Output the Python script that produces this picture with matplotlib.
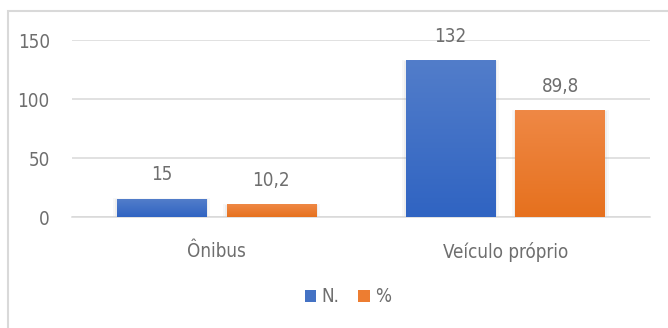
import numpy as np
import matplotlib.pyplot as plt
from matplotlib.colors import LinearSegmentedColormap
from matplotlib.patches import Rectangle

# dados
categorias = ['Ônibus', 'Veículo próprio']
serie_n = [15, 132]
serie_pct = [10.2, 89.8]
rotulos_n = ['15', '132']
rotulos_pct = ['10,2', '89,8']
nomes_series = ['N.', '%']

plt.rcParams['font.family'] = ['DejaVu Sans']
plt.rcParams['font.stretch'] = 'condensed'
cor_texto = '#6e6e6e'
cor_grade = '#d9d9d9'
tam = 13.5

fig = plt.figure(figsize=(6.68, 3.28), dpi=100)
ax = fig.add_axes([0.1078, 0.337, 0.865, 0.541])

x = np.arange(len(categorias))
largura = 0.31
desloc = 0.19

barras_n = ax.bar(x - desloc, serie_n, largura, color='#4472c4', zorder=2)
barras_pct = ax.bar(x + desloc, serie_pct, largura, color='#ed7d31', zorder=2)

# preenchimento em degradê e sombra leve em cada barra
grad_azul = LinearSegmentedColormap.from_list('azul', ['#3064c2', '#527dca'])
grad_laranja = LinearSegmentedColormap.from_list('laranja', ['#e6711e', '#ef8845'])
degrade = np.linspace(0, 1, 100).reshape(-1, 1)
for barras, cmap in ((barras_n, grad_azul), (barras_pct, grad_laranja)):
    for b in barras:
        bx, bw, bh = b.get_x(), b.get_width(), b.get_height()
        for i, a in enumerate((0.05, 0.08)):
            m = 0.012 - i * 0.006
            ax.add_patch(Rectangle((bx - m, 0), bw + 2 * m, bh + 1.2 - i * 0.6,
                                   facecolor='#808080', alpha=a, linewidth=0, zorder=1))
        ax.imshow(degrade, extent=[bx, bx + bw, 0, bh], origin='lower',
                  aspect='auto', cmap=cmap, zorder=3)

# rótulos de valor
for barras, rotulos in ((barras_n, rotulos_n), (barras_pct, rotulos_pct)):
    for b, txt in zip(barras, rotulos):
        ax.annotate(txt, (b.get_x() + b.get_width() / 2, b.get_height()),
                    xytext=(0, 11), textcoords='offset points',
                    ha='center', va='bottom', fontsize=tam, color=cor_texto)

ax.set_xlim(-0.5, 1.5)
ax.set_ylim(0, 150)
ax.set_yticks([0, 50, 100, 150])
ax.set_xticks(x)
ax.set_xticklabels(categorias)
ax.tick_params(axis='both', length=0, labelsize=tam, colors=cor_texto)
ax.tick_params(axis='y', pad=16)
ax.tick_params(axis='x', pad=18)
ax.grid(axis='y', color=cor_grade, linewidth=1.1, zorder=0)
ax.set_axisbelow(True)
for lado in ('top', 'right', 'left'):
    ax.spines[lado].set_visible(False)
ax.spines['bottom'].set_color(cor_grade)
ax.spines['bottom'].set_linewidth(1.1)

fig.legend([barras_n, barras_pct], nomes_series, loc='center',
           bbox_to_anchor=(0.521, 0.095), ncol=2, frameon=False,
           fontsize=tam, labelcolor=cor_texto, handlelength=0.6,
           handleheight=0.6, handletextpad=0.3, columnspacing=1.0)

# moldura da área do gráfico
fig.patches.append(Rectangle((0.012, -0.1), 1.2, 1.0665, transform=fig.transFigure,
                             fill=False, edgecolor=cor_grade, linewidth=1.5))

fig.savefig('out.png', dpi=100)
